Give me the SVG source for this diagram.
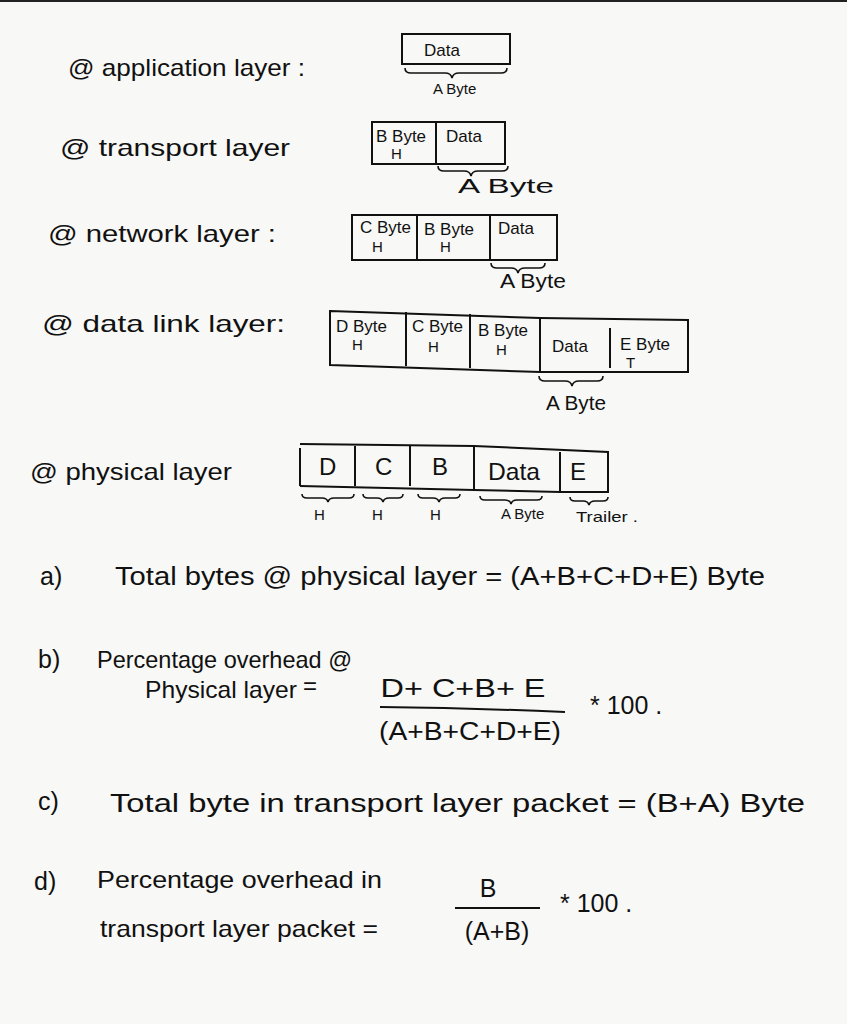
<svg xmlns="http://www.w3.org/2000/svg" width="847" height="1024" viewBox="0 0 847 1024">
<style>
.t{font-family:"Liberation Sans",Arial,sans-serif;fill:#111;}
.lbl{font-size:24px;}
.cell{font-size:17px;}
.sm{font-size:15px;}
.md{font-size:20px;}
.eq{font-size:25px;}
.box{fill:none;stroke:#111;stroke-width:2;}
.br{fill:none;stroke:#111;stroke-width:1.6;}
</style>
<rect width="847" height="1024" fill="#f8f8f6"/>
<rect width="847" height="2" fill="#222"/>

<g id="application">
<text class="t lbl" x="68" y="76" textLength="237" lengthAdjust="spacingAndGlyphs">@ application layer :</text>
<rect class="box" x="402" y="34" width="108" height="30"/>
<text class="t cell" x="424" y="56">Data</text>
<path class="br" d="M405,68 q0,5 6,5 h34 q6,0 7,5 q1,-5 7,-5 h42 q6,0 6,-5"/>
<text class="t sm" x="433" y="94">A Byte</text>
</g>

<g id="transport">
<text class="t lbl" x="60" y="156" textLength="230" lengthAdjust="spacingAndGlyphs">@ transport layer</text>
<rect class="box" x="372" y="122" width="133" height="42"/>
<line class="box" x1="436" y1="122" x2="436" y2="164"/>
<text class="t cell" x="376" y="142">B Byte</text>
<text class="t sm" x="391" y="159">H</text>
<text class="t cell" x="446" y="142">Data</text>
<path class="br" d="M438,166 q0,5 6,5 h20 q6,0 7,5 q1,-5 7,-5 h24 q6,0 6,-5"/>
<text class="t md" x="458" y="193" textLength="96" lengthAdjust="spacingAndGlyphs">A Byte</text>
</g>

<g id="network">
<text class="t lbl" x="48" y="242" textLength="228" lengthAdjust="spacingAndGlyphs">@ network layer :</text>
<rect class="box" x="352" y="215" width="205" height="45"/>
<line class="box" x1="417" y1="215" x2="417" y2="260"/>
<line class="box" x1="490" y1="215" x2="490" y2="260"/>
<text class="t cell" x="360" y="233">C Byte</text>
<text class="t sm" x="372" y="252">H</text>
<text class="t cell" x="424" y="235">B Byte</text>
<text class="t sm" x="440" y="252">H</text>
<text class="t cell" x="498" y="234">Data</text>
<path class="br" d="M491,263 q0,5 6,5 h14 q6,0 7,5 q1,-5 7,-5 h14 q6,0 6,-5"/>
<text class="t md" x="500" y="288" textLength="66" lengthAdjust="spacingAndGlyphs">A Byte</text>
</g>

<g id="datalink">
<text class="t lbl" x="42" y="332" textLength="243" lengthAdjust="spacingAndGlyphs">@ data link layer:</text>
<path class="box" d="M330,311 L540,318 L688,320 L688,372 L540,372 L330,365 Z"/>
<line class="box" x1="406" y1="312" x2="406" y2="366"/>
<line class="box" x1="470" y1="314" x2="470" y2="368"/>
<line class="box" x1="540" y1="318" x2="540" y2="372"/>
<line class="box" x1="610" y1="328" x2="610" y2="368"/>
<text class="t cell" x="336" y="332">D Byte</text>
<text class="t sm" x="352" y="350">H</text>
<text class="t cell" x="412" y="332">C Byte</text>
<text class="t sm" x="428" y="352">H</text>
<text class="t cell" x="478" y="336">B Byte</text>
<text class="t sm" x="496" y="355">H</text>
<text class="t cell" x="552" y="352">Data</text>
<text class="t cell" x="620" y="350">E Byte</text>
<text class="t sm" x="626" y="368">T</text>
<path class="br" d="M539,376 q0,5 6,5 h20 q6,0 7,5 q1,-5 7,-5 h18 q6,0 6,-5"/>
<text class="t md" x="546" y="410" textLength="60" lengthAdjust="spacingAndGlyphs">A Byte</text>
</g>

<g id="physical">
<text class="t lbl" x="30" y="480" textLength="202" lengthAdjust="spacingAndGlyphs">@ physical layer</text>
<path class="box" d="M300,444 L474,446 L608,452 L608,492 L560,492 L474,490 L300,486"/>
<line class="box" x1="300" y1="448" x2="300" y2="486"/>
<line class="box" x1="355" y1="446" x2="355" y2="486"/>
<line class="box" x1="410" y1="446" x2="410" y2="486"/>
<line class="box" x1="474" y1="446" x2="474" y2="490"/>
<line class="box" x1="560" y1="452" x2="560" y2="492"/>
<text class="t lbl" x="319" y="475">D</text>
<text class="t lbl" x="375" y="475">C</text>
<text class="t lbl" x="432" y="475">B</text>
<text class="t lbl" x="488" y="480" textLength="52" lengthAdjust="spacingAndGlyphs">Data</text>
<text class="t lbl" x="570" y="480">E</text>
<path class="br" d="M302,494 q0,4 5,4 h15 q5,0 6,4 q1,-4 6,-4 h15 q5,0 5,-4"/>
<path class="br" d="M363,494 q0,4 5,4 h9 q5,0 6,4 q1,-4 6,-4 h9 q5,0 5,-4"/>
<path class="br" d="M418,494 q0,4 5,4 h10 q5,0 6,4 q1,-4 6,-4 h10 q5,0 5,-4"/>
<path class="br" d="M480,496 q0,4 5,4 h20 q5,0 6,4 q1,-4 6,-4 h20 q5,0 5,-4"/>
<path class="br" d="M570,497 q0,4 5,4 h8 q5,0 6,4 q1,-4 6,-4 h8 q5,0 5,-4"/>
<text class="t sm" x="314" y="520">H</text>
<text class="t sm" x="372" y="520">H</text>
<text class="t sm" x="430" y="520">H</text>
<text class="t sm" x="501" y="519">A Byte</text>
<text class="t sm" x="576" y="522" textLength="62" lengthAdjust="spacingAndGlyphs">Trailer .</text>
</g>

<g id="answer-a">
<text class="t eq" x="40" y="585">a)</text>
<text class="t eq" x="115" y="585" textLength="650" lengthAdjust="spacingAndGlyphs">Total bytes @ physical layer = (A+B+C+D+E) Byte</text>
</g>

<g id="answer-b">
<text class="t eq" x="38" y="668">b)</text>
<text class="t lbl" x="97" y="668" textLength="255" lengthAdjust="spacingAndGlyphs">Percentage overhead @</text>
<text class="t lbl" x="145" y="698" textLength="152" lengthAdjust="spacingAndGlyphs">Physical layer</text>
<text class="t lbl" x="303" y="694">=</text>
<text class="t eq" x="463" y="697" text-anchor="middle" textLength="165" lengthAdjust="spacingAndGlyphs">D+ C+B+ E</text>
<path class="box" d="M380,707 Q470,708 565,712"/>
<text class="t eq" x="470" y="740" text-anchor="middle" textLength="182" lengthAdjust="spacingAndGlyphs">(A+B+C+D+E)</text>
<text class="t eq" x="590" y="714">* 100 .</text>
</g>

<g id="answer-c">
<text class="t eq" x="38" y="810">c)</text>
<text class="t eq" x="110" y="812" textLength="695" lengthAdjust="spacingAndGlyphs">Total byte in transport layer packet = (B+A) Byte</text>
</g>

<g id="answer-d">
<text class="t eq" x="34" y="890">d)</text>
<text class="t lbl" x="97" y="888" textLength="285" lengthAdjust="spacingAndGlyphs">Percentage overhead in</text>
<text class="t lbl" x="100" y="937" textLength="278" lengthAdjust="spacingAndGlyphs">transport layer packet =</text>
<text class="t eq" x="488" y="897" text-anchor="middle">B</text>
<path class="box" d="M455,908 L540,908"/>
<text class="t eq" x="497" y="940" text-anchor="middle">(A+B)</text>
<text class="t eq" x="560" y="912">* 100 .</text>
</g>
</svg>
